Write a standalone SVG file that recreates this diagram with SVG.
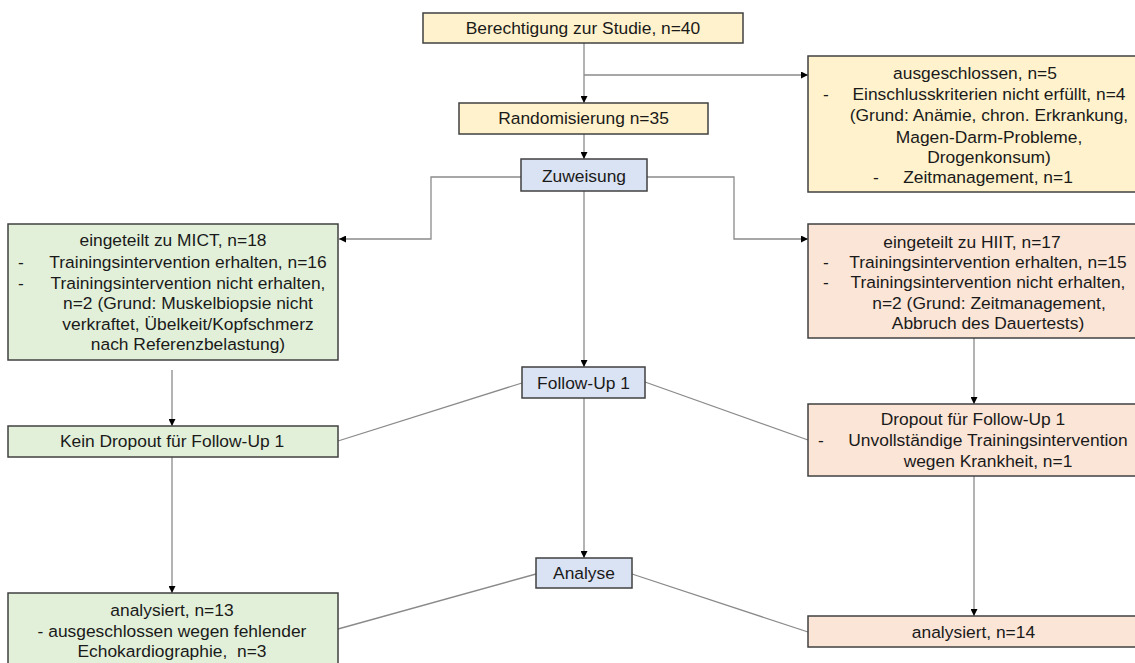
<svg xmlns="http://www.w3.org/2000/svg" width="1135" height="663" viewBox="0 0 1135 663">
<defs>
<style>
.box{stroke:#404040;stroke-width:1.5}
.y{fill:#FFF2CC}.b{fill:#DAE3F3}.g{fill:#E2F0D9}.p{fill:#FBE5D6}
text{font-family:"Liberation Sans",Arial,sans-serif;font-size:17.4px;fill:#1a1a1a}
.c{text-anchor:middle}
.ln{fill:none;stroke:#8a8a8a;stroke-width:1.3}
</style>
<marker id="ah" viewBox="0 0 10 10" refX="10" refY="5" markerWidth="7" markerHeight="7" markerUnits="userSpaceOnUse" orient="auto">
<path d="M0,0 L10,5 L0,10 z" fill="#000"/>
</marker>
</defs>
<rect width="1135" height="663" fill="#fff"/>
<g id="connectors">
<line class="ln" x1="584" y1="43" x2="584" y2="103" marker-end="url(#ah)"/>
<line class="ln" x1="584" y1="75" x2="808" y2="75" marker-end="url(#ah)"/>
<line class="ln" x1="584" y1="134" x2="584" y2="159" marker-end="url(#ah)"/>
<polyline class="ln" points="521,177 431,177 431,239 339,239" marker-end="url(#ah)"/>
<polyline class="ln" points="647,177 734,177 734,239 808,239" marker-end="url(#ah)"/>
<line class="ln" x1="584" y1="191" x2="584" y2="367" marker-end="url(#ah)"/>
<line class="ln" x1="172" y1="370" x2="172" y2="426" marker-end="url(#ah)"/>
<line class="ln" x1="172" y1="457" x2="172" y2="593" marker-end="url(#ah)"/>
<line class="ln" x1="974" y1="338" x2="974" y2="404" marker-end="url(#ah)"/>
<line class="ln" x1="974" y1="476" x2="974" y2="616" marker-end="url(#ah)"/>
<line class="ln" x1="584" y1="398" x2="584" y2="558" marker-end="url(#ah)"/>
<line class="ln" x1="338" y1="441" x2="522" y2="383"/>
<line class="ln" x1="645" y1="382" x2="808" y2="440"/>
<line class="ln" x1="338" y1="629" x2="536" y2="574"/>
<line class="ln" x1="632" y1="574" x2="808" y2="632"/>
</g>
<g id="n_berechtigung">
<rect class="box y" x="423" y="13" width="320" height="30"/>
<text class="c" x="583" y="34">Berechtigung zur Studie, n=40</text>
</g>
<g id="n_ausgeschlossen">
<rect class="box y" x="808" y="56" width="332" height="136"/>
<text class="c" x="975" y="79">ausgeschlossen, n=5</text>
<text x="823" y="100">-</text>
<text class="c" x="989" y="100">Einschlusskriterien nicht erfüllt, n=4</text>
<text class="c" x="989" y="121">(Grund: Anämie, chron. Erkrankung,</text>
<text class="c" x="989" y="143">Magen-Darm-Probleme,</text>
<text class="c" x="989" y="163">Drogenkonsum)</text>
<text x="873" y="183">-</text>
<text class="c" x="988" y="183">Zeitmanagement, n=1</text>
</g>
<g id="n_randomisierung">
<rect class="box y" x="459" y="103" width="249" height="31"/>
<text class="c" x="583.5" y="124">Randomisierung n=35</text>
</g>
<g id="n_zuweisung">
<rect class="box b" x="521" y="159" width="126" height="32"/>
<text class="c" x="584" y="182">Zuweisung</text>
</g>
<g id="n_mict">
<rect class="box g" x="8" y="224" width="330" height="136"/>
<text class="c" x="173" y="246">eingeteilt zu MICT, n=18</text>
<text x="18" y="268">-</text>
<text class="c" x="188" y="268">Trainingsintervention erhalten, n=16</text>
<text x="18" y="289">-</text>
<text class="c" x="188" y="289">Trainingsintervention nicht erhalten,</text>
<text class="c" x="188" y="309">n=2 (Grund: Muskelbiopsie nicht</text>
<text class="c" x="188" y="330">verkraftet, Übelkeit/Kopfschmerz</text>
<text class="c" x="188" y="350">nach Referenzbelastung)</text>
</g>
<g id="n_hiit">
<rect class="box p" x="808" y="224" width="332" height="114"/>
<text class="c" x="972" y="248">eingeteilt zu HIIT, n=17</text>
<text x="823" y="268">-</text>
<text class="c" x="988" y="268">Trainingsintervention erhalten, n=15</text>
<text x="823" y="288">-</text>
<text class="c" x="988" y="288">Trainingsintervention nicht erhalten,</text>
<text class="c" x="989" y="309">n=2 (Grund: Zeitmanagement,</text>
<text class="c" x="988" y="329">Abbruch des Dauertests)</text>
</g>
<g id="n_followup">
<rect class="box b" x="522" y="367" width="123" height="31"/>
<text class="c" x="583.5" y="389">Follow-Up 1</text>
</g>
<g id="n_keindropout">
<rect class="box g" x="8" y="426" width="330" height="31"/>
<text class="c" x="172" y="447">Kein Dropout für Follow-Up 1</text>
</g>
<g id="n_dropout">
<rect class="box p" x="808" y="404" width="332" height="72"/>
<text class="c" x="973" y="425">Dropout für Follow-Up 1</text>
<text x="818" y="446">-</text>
<text class="c" x="988" y="446">Unvollständige Trainingsintervention</text>
<text class="c" x="988" y="467">wegen Krankheit, n=1</text>
</g>
<g id="n_analyse">
<rect class="box b" x="536" y="558" width="96" height="30"/>
<text class="c" x="584" y="579">Analyse</text>
</g>
<g id="n_analysiert13">
<rect class="box g" x="8" y="593" width="330" height="80"/>
<text class="c" x="172" y="616">analysiert, n=13</text>
<text class="c" x="172" y="637">- ausgeschlossen wegen fehlender</text>
<text class="c" x="172" y="657">Echokardiographie,&#160; n=3</text>
</g>
<g id="n_analysiert14">
<rect class="box p" x="808" y="616" width="332" height="31"/>
<text class="c" x="973.5" y="638">analysiert, n=14</text>
</g>
</svg>
